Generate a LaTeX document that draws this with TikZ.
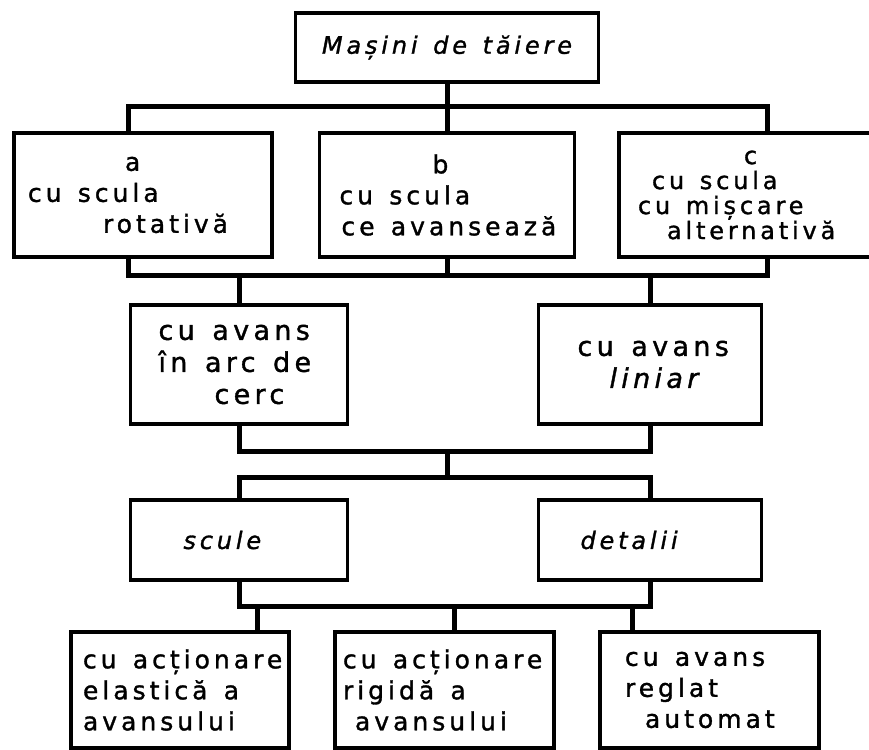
\documentclass[tikz,border=0pt]{standalone}
\usepackage{fontspec}
\newfontfamily\hand[LetterSpace=16, FakeBold=1.3]{DejaVu Sans}
\newcommand\ind[1]{\hspace*{#1pt}}
\newcommand\gap{\hspace*{0.65em}}
\begin{document}
\begin{tikzpicture}[x=1pt, y=-1pt,
        box/.style n args={2}{draw, line width=3.5pt, inner xsep=8pt, inner ysep=0pt,
            text width=#1, minimum height=#2, align=left},
        bus/.style={line width=5pt},
        small/.style={font=\hand\fontsize{25}{31}\selectfont},
        big/.style={font=\hand\fontsize{27}{32}\selectfont}
    ]
        \useasboundingbox (0,0) rectangle (869,749);

        % Top
        \node[box={287pt}{69pt}, align=center, font=\hand\itshape\fontsize{24}{30}\selectfont] (top) at (447,47.5) {Mașini\gap de\gap tăiere};

        % Second row
        \node[box={242pt}{124pt}, small] (a) at (143,195) {\ind{103}a\\\ind{6}cu\gap scula\\\ind{81}rotativă};
        \node[box={239pt}{124pt}, small] (b) at (447,195) {\ind{105}b\\\ind{12}cu\gap scula\\\ind{14}ce\gap avansează};
        \node[box={246pt}{124pt}, small, font=\hand\fontsize{24}{25}\selectfont] (c) at (750,195) {\ind{117}c\\\ind{25}cu\gap scula\\\ind{11}cu\gap mișcare\\\ind{40}alternativă};

        % Feed
        \node[box={201pt}{119pt}, big] (arc) at (239,364.5) {\ind{20}cu\gap avans\\\ind{20}în\gap arc\gap de\\\ind{76}cerc};
        \node[box={207pt}{119pt}, big] (lin) at (650,364.5) {\ind{31}cu\gap avans\\\ind{63}\itshape liniar};

        % Tools and parts
        \node[box={201pt}{80pt}, font=\hand\itshape\fontsize{24}{30}\selectfont] (scule) at (239,540) {\ind{45}scule};
        \node[box={207pt}{80pt}, font=\hand\itshape\fontsize{24}{30}\selectfont] (det) at (650,540) {\ind{34}detalii};

        % Bottom row
        \node[box={202pt}{116pt}, small] (el) at (180,690) {\ind{4}cu\gap acționare\\\ind{4}elastică\gap a\\\ind{4}avansului};
        \node[box={203pt}{116pt}, small] (rig) at (444.5,690) {\ind{0}cu\gap acționare\\\ind{0}rigidă\gap a\\\ind{12}avansului};
        \node[box={203pt}{116pt}, small] (aut) at (709.5,690) {\ind{17}cu\gap avans\\\ind{17}reglat\\\ind{37}automat};

        % Bus lines
        \coordinate (j1) at (447,107);
        \coordinate (j2) at (447,275);
        \coordinate (j3) at (447,451);
        \coordinate (j4) at (447,477);
        \coordinate (j5) at (447,606);
        \coordinate (d1) at (257,606);
        \coordinate (d2) at (454,606);
        \coordinate (d3) at (632,606);

        \draw[bus] (top) -- (j1);
        \draw[bus] ([xshift=-15pt]a.north) |- (j1) -| ([xshift=17pt]c.north);
        \draw[bus] (j1) -- (b);
        \draw[bus] ([xshift=-15pt]a.south) |- (j2) -| ([xshift=17pt]c.south);
        \draw[bus] (b) -- (j2);
        \draw[bus] (arc.north) -- (arc.north |- j2);
        \draw[bus] (lin.north) -- (lin.north |- j2);
        \draw[bus] (arc.south) |- (j3) -| (lin.south);
        \draw[bus] (j3) -- (j4);
        \draw[bus] (scule.north) |- (j4) -| (det.north);
        \draw[bus] (scule.south) |- (j5) -| (det.south);
        \draw[bus] (d1) -- (d1 |- el.north);
        \draw[bus] (d2) -- (d2 |- rig.north);
        \draw[bus] (d3) -- (d3 |- aut.north);
    \end{tikzpicture}
\end{document}
